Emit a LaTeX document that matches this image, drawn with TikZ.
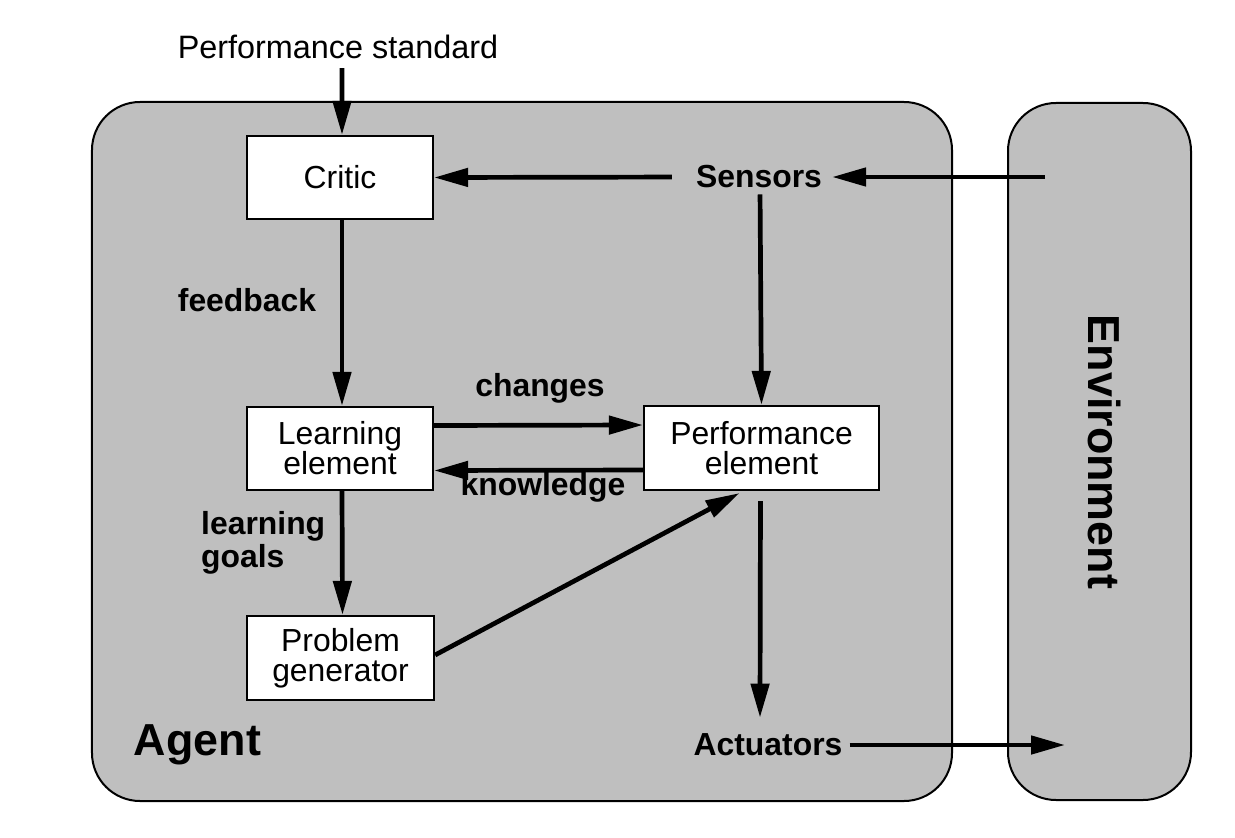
\documentclass[tikz,border=0pt]{standalone}
\usepackage{fontspec}
\setmainfont{Liberation Sans}
\usetikzlibrary{arrows.meta}
\definecolor{panelgray}{RGB}{191,191,191}
\begin{document}
\begin{tikzpicture}[x=1bp,y=-1bp,
  panel/.style={draw,line width=2bp,fill=panelgray,rounded corners=48bp,inner sep=0},
  box/.style={draw,line width=2.2bp,fill=white,align=center,inner sep=0,
    font=\fontsize{32}{30}\selectfont},
  lbl/.style={font=\bfseries\fontsize{32}{33}\selectfont,inner sep=0},
  big/.style={font=\bfseries\fontsize{45}{45}\selectfont,inner sep=0},
  flow/.style={line width=4.7bp,-{Triangle[length=34bp,width=18bp]}}]
\useasboundingbox (0,0) rectangle (1235,838);

% agent and environment panels
\node[panel,minimum width=860bp,minimum height=699bp] (agent) at (522,451.5) {};
\node[panel,minimum width=183bp,minimum height=697bp] (env) at (1099.5,451.5) {};

% components
\node[box,minimum width=186bp,minimum height=83bp] (critic) at (340,177.5) {Critic};
\node[box,minimum width=186bp,minimum height=83bp] (learn) at (340,448.5) {Learning\\element};
\node[box,minimum width=235bp,minimum height=84bp] (perf) at (761.5,448) {Performance\\element};
\node[box,minimum width=187bp,minimum height=84bp] (prob) at (340.5,658) {Problem\\generator};

% labels
\node[font=\fontsize{32.5}{33}\selectfont,inner sep=0] (std) at (338,47) {Performance standard};
\node[lbl] (sensors) at (759,177) {Sensors};
\node[lbl] (act) at (768,745) {Actuators};
\node[lbl] (fb) at (247,300) {feedback};
\node[lbl] (chg) at (540,388) {changes};
\node[lbl] (knw) at (543,487) {knowledge};
\node[lbl,align=left,anchor=west] (goals) at (201,543) {learning\\goals};
\node[big] (agentlbl) at (197.5,745) {Agent};
\node[big,rotate=-90] (envlbl) at (1105,452) {Environment};

% free ends at the environment
\coordinate (envout) at (1045,177);
\coordinate (envin) at (1065,745);
\coordinate (stdend) at (342,68);

% connectors (yshift is in page direction: positive is up)
\draw[flow] (stdend) -- ([xshift=2bp]critic.north);
\draw[flow] ([xshift=2bp]critic.south) -- ([xshift=2bp]learn.north);
\draw[flow,shorten <=24bp] (sensors.west) -- (critic.east);
\draw[flow] (envout) -- ([xshift=10bp]sensors.east);
\draw[flow,shorten <=6bp] ([xshift=1bp]sensors.south) -- (perf.north);
\draw[flow] ([yshift=23bp]learn.east) -- ([yshift=23bp]perf.west);
\draw[flow] ([yshift=-22bp]perf.west) -- ([yshift=-22bp]learn.east);
\draw[flow] ([xshift=2bp]learn.south) -- ([xshift=2bp]prob.north);
\draw[flow] ([yshift=3bp]prob.east) -- ([xshift=-22bp,yshift=-2bp]perf.south);
\draw[flow,shorten <=10bp] ([xshift=-1bp]perf.south) -- ([xshift=-8bp,yshift=16bp]act.north);
\draw[flow,shorten <=7bp] (act.east) -- (envin);
\end{tikzpicture}
\end{document}
